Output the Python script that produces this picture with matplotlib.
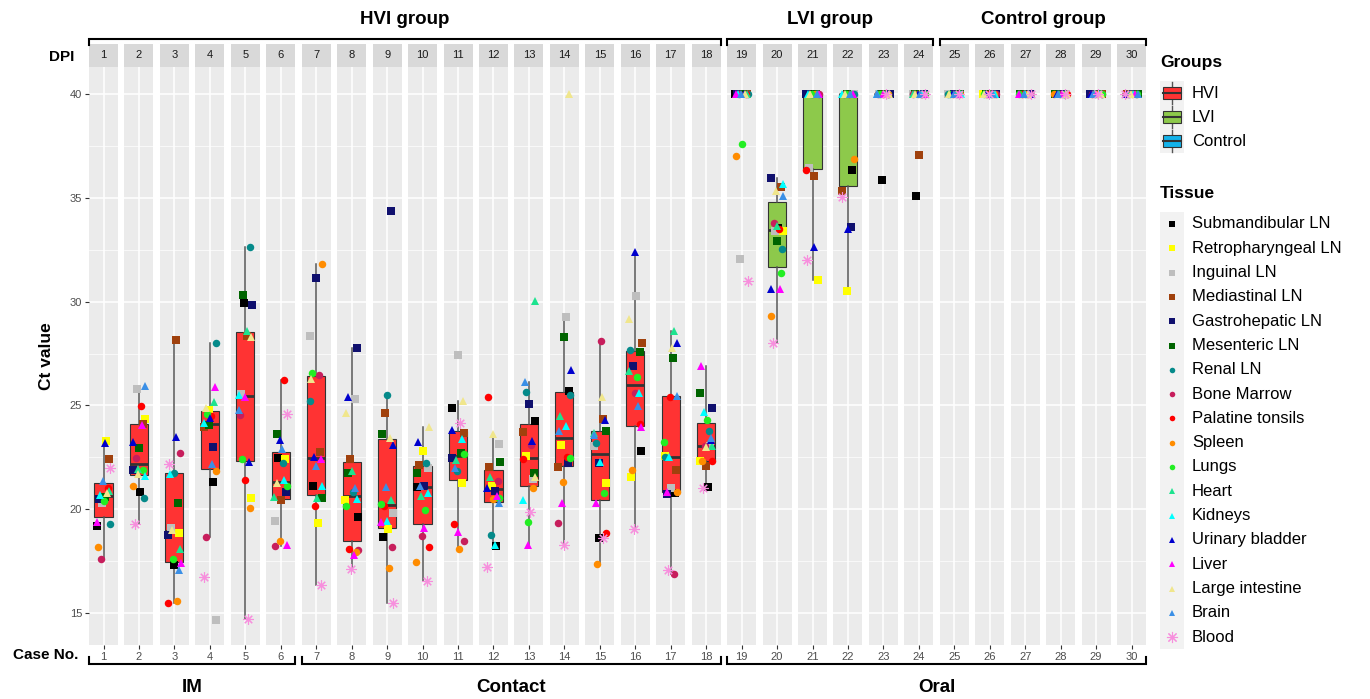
import matplotlib
matplotlib.use("Agg")
import matplotlib.pyplot as plt
from matplotlib.patches import Rectangle

plt.rcParams['font.family'] = ['Liberation Sans', 'DejaVu Sans']

# ---- data ----
tissues = ['Submandibular LN', 'Retropharyngeal LN', 'Inguinal LN', 'Mediastinal LN',
           'Gastrohepatic LN', 'Mesenteric LN', 'Renal LN', 'Bone Marrow',
           'Palatine tonsils', 'Spleen', 'Lungs', 'Heart', 'Kidneys',
           'Urinary bladder', 'Liver', 'Large intestine', 'Brain', 'Blood']
tissue_colors = ['#000000', '#FFFF00', '#BEBEBE', '#A0410D', '#10106E', '#006400',
                 '#058A8A', '#C71E5C', '#FF0000', '#FF8C00', '#22EE22', '#1DE38F',
                 '#00FFFF', '#0000CD', '#FF00FF', '#F0E68C', '#3A8FE6', '#F78FDD']
tissue_markers = ['s'] * 6 + ['o'] * 5 + ['^'] * 6 + [(8, 2, 0)]

dpi_labels = list(range(1, 31))
case_labels = list(range(1, 31))
groups = ['HVI'] * 18 + ['LVI'] * 6 + ['Control'] * 6
routes = ['IM'] * 6 + ['Contact'] * 12 + ['Oral'] * 12
group_names = ['HVI', 'LVI', 'Control']
group_colors = {'HVI': '#FF3333', 'LVI': '#8DC94B', 'Control': '#13B2EA'}

# Ct values per case, tissue order as in `tissues`
hvi_ct = [
    [19.2, 23.3, 20.3, 22.4, 20.5, 20.6, 19.3, 17.6, 21.0, 18.2, 20.4, 20.9, 20.7, 23.2, 19.4, 20.8, 21.36, 22.0],
    [20.83, 24.33, 25.77, 24.12, 21.9, 22.96, 20.56, 22.45, 24.97, 21.13, 21.9, 21.92, 21.6, 23.25, 24.04, 21.7, 25.95, 19.3],
    [17.3, 18.87, 19.1, 28.15, 18.76, 20.3, 21.76, 22.72, 15.5, 15.6, 17.6, 18.1, 21.7, 23.5, 17.4, 19.0, 17.07, 22.18],
    [21.29, 24.78, 14.66, 23.98, 22.98, 24.05, 28.02, 18.65, 24.5, 21.86, 24.6, 25.16, 24.14, 24.39, 25.9, 24.86, 22.2, 16.72],
    [29.95, 20.55, 25.53, 28.34, 29.84, 30.32, 32.65, 24.54, 21.4, 20.07, 22.4, 28.58, 25.5, 22.29, 25.4, 28.31, 24.78, 14.7],
    [22.48, 22.42, 19.43, 20.44, 20.81, 23.6, 22.21, 18.23, 26.22, 18.47, 21.1, 20.57, 21.4, 23.33, 18.28, 21.25, 22.88, 24.59],
    [21.12, 19.35, 28.34, 22.74, 31.12, 20.56, 25.23, 26.46, 20.17, 31.8, 26.54, 20.56, 21.12, 22.5, 22.42, 26.25, 22.1, 16.35],
    [19.64, 20.44, 25.29, 22.4, 27.78, 21.73, 20.81, 18.03, 18.1, 17.92, 20.17, 21.84, 20.47, 25.39, 17.79, 24.62, 21.04, 17.1],
    [18.64, 19.03, 19.8, 24.62, 34.36, 23.62, 25.5, 18.2, 20.15, 17.15, 20.25, 20.44, 19.45, 23.09, 19.37, 23.45, 21.09, 15.47],
    [21.05, 22.82, 22.0, 22.13, 21.13, 21.76, 22.24, 18.71, 18.16, 17.47, 19.96, 20.63, 20.8, 23.22, 19.08, 23.94, 21.1, 16.56],
    [24.89, 21.28, 27.45, 23.69, 22.45, 22.69, 21.86, 18.48, 19.27, 18.07, 22.66, 22.37, 23.38, 23.81, 18.89, 25.21, 21.97, 24.14],
    [18.24, 21.12, 23.13, 22.02, 20.9, 22.29, 18.76, 21.36, 25.42, 20.48, 20.53, 21.57, 18.3, 21.0, 20.64, 23.62, 20.28, 17.2],
    [24.25, 22.56, 21.44, 23.7, 25.07, 21.76, 25.66, 23.09, 22.4, 21.04, 19.4, 30.03, 20.44, 23.29, 18.26, 21.54, 26.14, 19.88],
    [25.71, 23.09, 29.27, 22.05, 22.21, 28.31, 25.5, 19.35, 22.53, 21.33, 22.48, 24.5, 24.01, 26.7, 20.28, 40.0, 23.78, 18.28],
    [18.63, 21.28, 23.06, 24.33, 22.24, 23.78, 23.2, 28.1, 18.87, 17.36, 20.76, 23.69, 22.29, 24.3, 20.32, 25.42, 23.57, 18.6],
    [22.82, 21.57, 30.27, 28.02, 26.91, 27.56, 27.67, 25.61, 24.1, 21.89, 26.38, 26.67, 25.58, 32.4, 23.97, 29.16, 24.99, 19.05],
    [20.8, 22.56, 21.0, 21.89, 20.73, 27.27, 22.5, 16.88, 25.4, 20.84, 23.25, 28.6, 22.53, 28.02, 20.84, 27.75, 25.47, 17.07],
    [21.08, 22.34, 23.06, 22.08, 24.89, 25.58, 23.77, 23.04, 22.32, 22.3, 24.3, 23.06, 24.67, 23.33, 26.88, 23.0, 23.41, 21.0],
]
lvi_ct = [
    [40, 40, 32.05, 40, 40, 40, 40, 40, 40, 37.01, 37.57, 40, 40, 40, 40, 40, 40, 31.01],
    [33.53, 33.4, 33.42, 35.54, 35.94, 32.93, 32.52, 33.8, 33.5, 29.31, 31.39, 33.66, 35.65, 30.59, 30.59, 35.33, 35.1, 28.02],
    [40, 31.04, 36.45, 36.07, 40, 40, 40, 40, 36.35, 40, 40, 40, 40, 32.61, 40, 40, 40, 32.0],
    [36.34, 30.53, 40, 35.34, 33.61, 40, 40, 40, 40, 36.85, 40, 40, 40, 33.5, 40, 40, 40, 35.02],
    [35.86, 40, 40, 40, 40, 40, 40, 40, 40, 40, 40, 40, 40, 40, 40, 40, 40, 40],
    [35.1, 40, 40, 37.06, 40, 40, 40, 40, 40, 40, 40, 40, 40, 40, 40, 40, 40, 40],
]
control_ct = [
    [40, 40, 40, 40, 40, 40, 40, 40, 40, 40, 40, 40, 40, 40, 40, 40, 40, 40],
    [40, 40, 40, 40, 40, 40, 40, 40, 40, 40, 40, 40, 40, 40, 40, 40, 40, 40],
    [40, 40, 40, 40, 40, 40, 40, 40, 40, 40, 40, 40, 40, 40, 40, 40, 40, 40],
    [40, 40, 40, 40, 40, 40, 40, 40, 40, 40, 40, 40, 40, 40, 40, 40, 40, 40],
    [40, 40, 40, 40, 40, 40, 40, 40, 40, 40, 40, 40, 40, 40, 40, 40, 40, 40],
    [40, 40, 40, 40, 40, 40, 40, 40, 40, 40, 40, 40, 40, 40, 40, 40, 40, 40],
]
all_ct = hvi_ct + lvi_ct + control_ct

# fixed horizontal spread for the points (stands in for geom_jitter)
jitter = [-0.26, 0.12, -0.05, 0.24, -0.17, 0.05, 0.26, -0.1, 0.18,
          -0.23, 0.0, 0.21, -0.14, 0.08, -0.25, 0.15, -0.02, 0.25]


def msize(m):
    if m == 's':
        return 5.4
    if m == 'o':
        return 5.4
    if m == '^':
        return 6.2
    return 7.5


# ---- layout (pixel based) ----
W, H = 1370, 699
fig = plt.figure(figsize=(W / 100, H / 100), dpi=100)
top_px, bot_px = 67, 645
left0, pitch, pw = 89, 35.45, 29
ymin, ymax = 13.46, 41.3

for i, vals in enumerate(all_ct):
    left = left0 + i * pitch
    ax = fig.add_axes([left / W, 1 - bot_px / H, pw / W, (bot_px - top_px) / H])
    ax.set_facecolor('#EBEBEB')

    bp = ax.boxplot([vals], positions=[1], widths=0.75, whis=1.5, showfliers=False,
                    showcaps=False, patch_artist=True,
                    boxprops=dict(facecolor=group_colors[groups[i]], edgecolor='#333333', linewidth=0.8),
                    medianprops=dict(color='#333333', linewidth=2),
                    whiskerprops=dict(color='#555555', linewidth=1.1))

    for k, v in enumerate(vals):
        m = tissue_markers[k]
        xo = 1 + jitter[(k + 5 * i) % 18]
        if m == tissue_markers[-1]:
            ax.plot([xo], [v], linestyle='none', marker=m, markersize=msize(m),
                    color=tissue_colors[k], markeredgewidth=0.8, zorder=3)
        else:
            ax.plot([xo], [v], linestyle='none', marker=m, markersize=msize(m),
                    color=tissue_colors[k], markeredgewidth=0, zorder=3)

    ax.set_xlim(0.4, 1.6)
    ax.set_ylim(ymin, ymax)
    ax.set_xticks([1])
    ax.set_xticklabels([str(case_labels[i])])
    ax.set_yticks([15, 20, 25, 30, 35, 40])
    ax.set_yticks([17.5, 22.5, 27.5, 32.5, 37.5], minor=True)
    ax.grid(True, which='major', color='white', linewidth=1.1)
    ax.grid(True, which='minor', axis='y', color='white', linewidth=0.5)
    ax.set_axisbelow(True)
    for s in ax.spines.values():
        s.set_visible(False)
    ax.tick_params(which='minor', length=0)
    ax.tick_params(axis='x', length=3, color='#333333', labelsize=8, labelcolor='#4D4D4D', pad=2)
    if i == 0:
        ax.tick_params(axis='y', length=3, color='#333333', labelsize=8, labelcolor='#4D4D4D', pad=2)
    else:
        ax.tick_params(axis='y', length=0, labelleft=False)

    # facet strip
    sax = fig.add_axes([left / W, 1 - top_px / H, pw / W, 23 / H])
    sax.set_facecolor('#D9D9D9')
    sax.set_xticks([])
    sax.set_yticks([])
    for s in sax.spines.values():
        s.set_visible(False)
    sax.text(0.5, 0.5, str(dpi_labels[i]), ha='center', va='center', fontsize=8, color='#1A1A1A')

# ---- overlay for brackets, titles, legend ----
ov = fig.add_axes([0, 0, 1, 1])
ov.set_xlim(0, W)
ov.set_ylim(H, 0)
ov.axis('off')


def spans(labels):
    out = []
    start = 0
    for j in range(1, len(labels) + 1):
        if j == len(labels) or labels[j] != labels[start]:
            out.append((labels[start], start, j - 1))
            start = j
    return out


for name, a, b in spans(groups):
    x1 = left0 + a * pitch
    x2 = left0 + b * pitch + pw
    ov.plot([x1, x1, x2, x2], [45, 38.5, 38.5, 45], color='black', lw=1.5, solid_joinstyle='miter')
    ov.text((x1 + x2) / 2, 20, name + ' group', ha='center', va='center',
            fontsize=13.5, fontweight='bold')

for name, a, b in spans(routes):
    x1 = left0 + a * pitch
    x2 = left0 + b * pitch + pw
    ov.plot([x1, x1, x2, x2], [657, 664, 664, 657], color='black', lw=1.5, solid_joinstyle='miter')
    ov.text((x1 + x2) / 2, 687, name, ha='center', va='center',
            fontsize=13.5, fontweight='bold')

ov.text(47, 356, 'Ct value', rotation=90, ha='center', va='center', fontsize=12.5, fontweight='bold')
ov.text(62, 57, 'DPI', ha='center', va='center', fontsize=11, fontweight='bold')
ov.text(46, 655, 'Case No.', ha='center', va='center', fontsize=11, fontweight='bold')

# legend: groups
ov.text(1160, 63, 'Groups', ha='left', va='center', fontsize=12.5, fontweight='bold')
ov.add_patch(Rectangle((1160, 81), 24, 72, facecolor='#F2F2F2', edgecolor='none'))
for j, g in enumerate(group_names):
    yc = 93 + 24 * j
    ov.plot([1172, 1172], [yc - 11, yc + 11], color='#555555', lw=1)
    ov.add_patch(Rectangle((1163, yc - 6), 18, 12, facecolor=group_colors[g],
                           edgecolor='#333333', lw=0.8, zorder=3))
    ov.plot([1163, 1181], [yc, yc], color='#333333', lw=1.5, zorder=4)
    ov.text(1192, yc, g, ha='left', va='center', fontsize=12)

# legend: tissues
ov.text(1160, 194, 'Tissue', ha='left', va='center', fontsize=12.5, fontweight='bold')
ov.add_patch(Rectangle((1160, 212), 24, 437, facecolor='#F2F2F2', edgecolor='none'))
for k, t in enumerate(tissues):
    yc = 224 + 24.3 * k
    m = tissue_markers[k]
    ax_kw = dict(linestyle='none', marker=m, color=tissue_colors[k])
    if k == len(tissues) - 1:
        ov.plot([1172], [yc], markersize=8, markeredgewidth=0.8, **ax_kw)
    else:
        ov.plot([1172], [yc], markersize=4, markeredgewidth=0, **ax_kw)
    ov.text(1192, yc, t, ha='left', va='center', fontsize=12)

fig.savefig('out.png', dpi=100)
